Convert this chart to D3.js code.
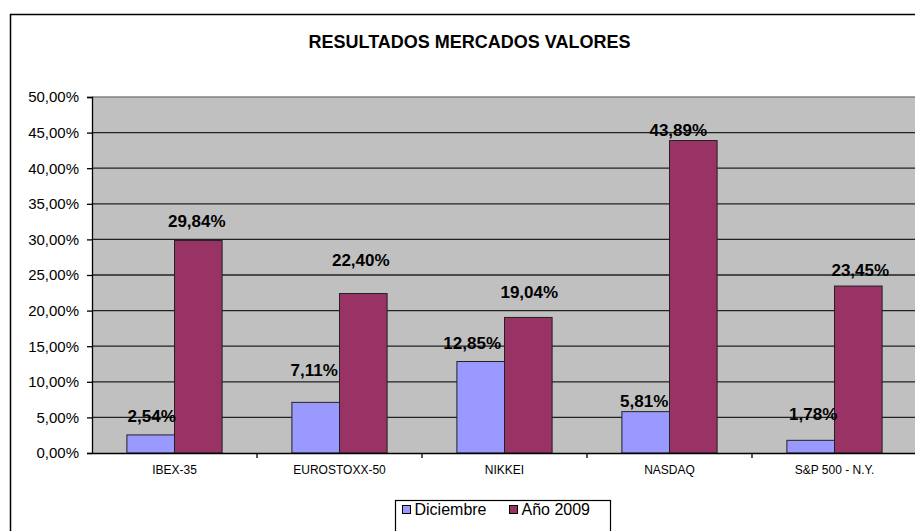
<!DOCTYPE html>
<html>
<head>
    <meta charset="utf-8">
    <title>Resultados mercados valores</title>
    <script src="https://d3js.org/d3.v7.min.js"></script>
    <style>
        body { margin: 0; background: #fff; }
        text { font-family: "Liberation Sans", Arial, sans-serif; }
    </style>
</head>
<body>
<script type="text/javascript">
    const w = 915;
    const h = 531;

    // data
    const categories = ['IBEX-35', 'EUROSTOXX-50', 'NIKKEI', 'NASDAQ', 'S&P 500 - N.Y.'];
    const seriesNames = ['Diciembre', 'Año 2009'];
    const diciembre = [2.54, 7.11, 12.85, 5.81, 1.78];
    const anio2009 = [29.84, 22.40, 19.04, 43.89, 23.45];
    const yTicks = [0, 5, 10, 15, 20, 25, 30, 35, 40, 45, 50];

    const colors = ['#9999ff', '#993366'];

    // hand-placed data labels in the original: nudges in px (x, lift above bar top)
    const labelNudge = [
        [[1, 13], [-1.5, 26], [-8.5, 12.5], [-1.5, 5], [2.5, 20]],
        [[-1.5, 14], [-2.5, 27.5], [1, 19], [-15, 5], [2, 10.5]]
    ];

    const series = [diciembre, anio2009];
    const rows = [];
    categories.forEach((c, i) => {
        series.forEach((s, j) => {
            rows.push({cat: c, name: seriesNames[j], value: s[i], i: i, j: j});
        });
    });

    const svg = d3.select('body').append('svg').attr('width', w).attr('height', h);

    // outer chart border
    svg.append('rect')
        .attr('x', 10.5).attr('y', 14.5)
        .attr('width', 920).attr('height', 530)
        .attr('fill', '#fff').attr('stroke', '#000').attr('stroke-width', 1.5);

    svg.append('text')
        .attr('x', 469.5).attr('y', 47.5)
        .attr('text-anchor', 'middle')
        .attr('font-size', '18px').attr('font-weight', 'bold')
        .text('RESULTADOS MERCADOS VALORES');

    const x0 = d3.scaleBand().domain(categories).range([92, 917]).padding(0);
    const x1 = d3.scaleBand().domain(seriesNames).range([0, x0.bandwidth()]).paddingInner(0).paddingOuter(0.733);
    const y = d3.scaleLinear().domain([0, 50]).range([453, 97]);

    // plot area
    svg.append('rect')
        .attr('x', 92).attr('y', y(50))
        .attr('width', 830).attr('height', y(0) - y(50))
        .attr('fill', '#c0c0c0');

    svg.append('line')
        .attr('x1', 92).attr('x2', 917)
        .attr('y1', y(50)).attr('y2', y(50))
        .attr('stroke', '#808080').attr('stroke-width', 1.5);

    svg.selectAll('line.grid')
        .data(yTicks.filter(d => d > 0 && d < 50))
        .enter()
        .append('line')
        .attr('class', 'grid')
        .attr('x1', 92).attr('x2', 917)
        .attr('y1', d => y(d)).attr('y2', d => y(d))
        .attr('stroke', '#222').attr('stroke-width', 1.3);

    svg.selectAll('rect.bar')
        .data(rows)
        .enter()
        .append('rect')
        .attr('class', 'bar')
        .attr('x', d => x0(d.cat) + x1(d.name))
        .attr('y', d => y(d.value))
        .attr('width', x1.bandwidth())
        .attr('height', d => y(0) - y(d.value))
        .attr('fill', d => colors[d.j])
        .attr('stroke', '#222').attr('stroke-width', 1);

    // y axis
    const yAxis = d3.axisLeft(y)
        .tickValues(yTicks)
        .tickSize(5)
        .tickPadding(8)
        .tickFormat(d => d.toFixed(2).replace('.', ',') + '%');

    const gy = svg.append('g')
        .attr('transform', 'translate(92,0)')
        .call(yAxis);
    gy.select('.domain').attr('stroke', '#000').attr('stroke-width', 1.3);
    gy.selectAll('.tick line').attr('stroke', '#000').attr('stroke-width', 1.3);
    gy.selectAll('.tick text')
        .attr('font-size', '15px')
        .attr('fill', '#000')
        .attr('font-family', '"Liberation Sans", Arial, sans-serif');

    // x axis
    const xAxis = d3.axisBottom(x0).tickSize(0).tickPadding(12);
    const gx = svg.append('g')
        .attr('transform', 'translate(0,' + y(0) + ')')
        .call(xAxis);
    gx.select('.domain').attr('stroke', '#000').attr('stroke-width', 1.3);
    gx.selectAll('.tick text')
        .attr('font-size', '12px')
        .attr('fill', '#000')
        .attr('font-family', '"Liberation Sans", Arial, sans-serif');

    // category separators
    svg.selectAll('line.sep')
        .data(categories.slice(1))
        .enter()
        .append('line')
        .attr('class', 'sep')
        .attr('x1', d => x0(d)).attr('x2', d => x0(d))
        .attr('y1', y(0)).attr('y2', y(0) + 5)
        .attr('stroke', '#000').attr('stroke-width', 1.3);

    // data labels
    svg.selectAll('text.lbl')
        .data(rows)
        .enter()
        .append('text')
        .attr('class', 'lbl')
        .attr('x', d => x0(d.cat) + x1(d.name) + x1.bandwidth() / 2 + labelNudge[d.j][d.i][0])
        .attr('y', d => y(d.value) - labelNudge[d.j][d.i][1])
        .attr('text-anchor', 'middle')
        .attr('font-size', '17px').attr('font-weight', 'bold')
        .text(d => d.value.toFixed(2).replace('.', ',') + '%');

    // legend
    const legend = svg.append('g');
    legend.append('rect')
        .attr('x', 395.5).attr('y', 500.5)
        .attr('width', 215).attr('height', 40)
        .attr('fill', '#fff').attr('stroke', '#000').attr('stroke-width', 1.2);

    const legendX = [402.5, 509.5];
    seriesNames.forEach((n, j) => {
        legend.append('rect')
            .attr('x', legendX[j]).attr('y', 505.5)
            .attr('width', 8).attr('height', 8)
            .attr('fill', colors[j]).attr('stroke', '#000').attr('stroke-width', 1);
        legend.append('text')
            .attr('x', legendX[j] + 12).attr('y', 514.5)
            .attr('font-size', '16px')
            .text(n);
    });
</script>
</body>
</html>
